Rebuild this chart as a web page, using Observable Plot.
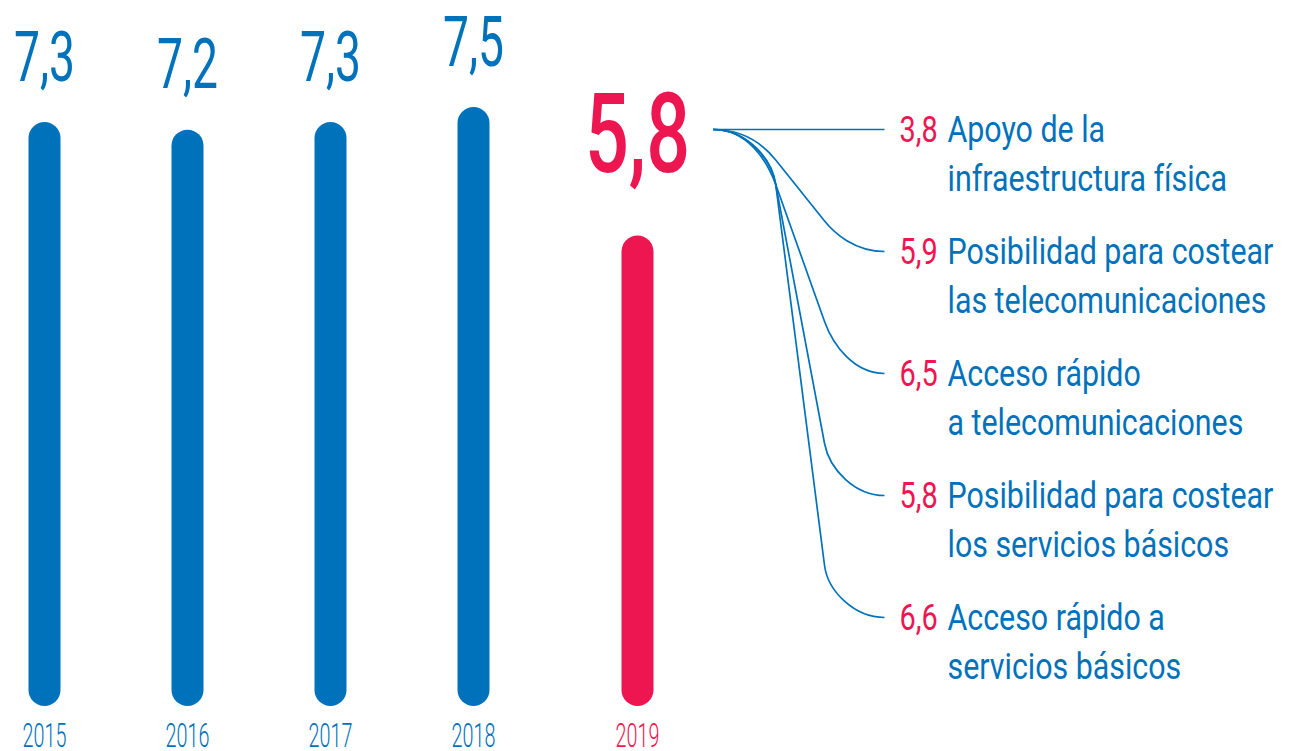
<!DOCTYPE html>
<html>
<head>
<meta charset="utf-8">
<script src="https://cdn.jsdelivr.net/npm/d3@7"></script>
<script src="https://cdn.jsdelivr.net/npm/@observablehq/plot@0.6"></script>
<style>
  html, body { margin: 0; padding: 0; background: #fff; }
  #chart { position: relative; width: 1290px; height: 751px; overflow: hidden; }
  #chart svg { position: absolute; top: 0; }
</style>
</head>
<body>
<div id="chart"></div>
<script>
// ---- data ----
const years = ["2015", "2016", "2017", "2018", "2019"];
const scores = [7.3, 7.2, 7.3, 7.5, 5.8];
const indicatorValues = [3.8, 5.9, 6.5, 5.8, 6.6];
const indicatorLabels = [
  "Apoyo de la\ninfraestructura física",
  "Posibilidad para costear\nlas telecomunicaciones",
  "Acceso rápido\na telecomunicaciones",
  "Posibilidad para costear\nlos servicios básicos",
  "Acceso rápido a\nservicios básicos"
];

// ---- styling ----
const BLUE = "#0072bc";
const PINK = "#ee1651";
const FONT = "Roboto, 'Liberation Sans', sans-serif";
const fmt = v => v.toFixed(1).replace(".", ",");

const bars = years.map((year, i) => ({year, value: scores[i], current: i === years.length - 1}));
const past = bars.filter(d => !d.current);
const now = bars.filter(d => d.current);
const indicators = indicatorLabels.map((label, i) => ({label, value: indicatorValues[i]}));

// squeeze text horizontally around its anchor (condensed type look)
function squeeze(svg, key, s) {
  svg.querySelectorAll(`g[aria-description="${key}"] text`).forEach(t => {
    const ax = parseFloat(t.getAttribute("x")) || 0;
    t.setAttribute("transform",
      (t.getAttribute("transform") || "") + ` translate(${ax},0) scale(${s},1) translate(${-ax},0)`);
  });
}

// ---- left chart: bars ----
const GAP = 21; // extra spacing before the current year
const left = Plot.plot({
  width: 700,
  height: 751,
  margin: 0,
  style: {fontFamily: FONT, background: "transparent"},
  x: {type: "point", domain: years, range: [44, 616], padding: 0, axis: null},
  y: {domain: [0, 9], range: [690, 9.6], axis: null},
  marks: [
    Plot.ruleX(past, {x: "year", y1: 0, y2: "value", stroke: BLUE, strokeWidth: 32, strokeLinecap: "round"}),
    Plot.ruleX(now, {x: "year", y1: 0, y2: "value", stroke: PINK, strokeWidth: 32, strokeLinecap: "round", dx: GAP}),
    Plot.text(past, {x: "year", y: "value", text: d => fmt(d.value), fill: BLUE, fontSize: 70,
      fontWeight: 400, lineAnchor: "bottom", dy: -58, ariaDescription: "vals"}),
    Plot.text(now, {x: "year", y: "value", text: d => fmt(d.value), fill: PINK, fontSize: 112, fontWeight: 500,
      lineAnchor: "bottom", dy: -80, dx: GAP, ariaDescription: "valnow"}),
    Plot.text(past, {x: "year", y: () => 0, text: "year", fill: BLUE, fontSize: 33, fontWeight: 300,
      lineAnchor: "top", dy: 33, ariaDescription: "years"}),
    Plot.text(now, {x: "year", y: () => 0, text: "year", fill: PINK, fontSize: 33, fontWeight: 300,
      lineAnchor: "top", dy: 33, dx: GAP, ariaDescription: "yearnow"})
  ]
});
squeeze(left, "vals", 0.66);
squeeze(left, "valnow", 0.69);
squeeze(left, "years", 0.6);
squeeze(left, "yearnow", 0.6);
left.style.left = "0px";

// ---- right panel: breakdown with elbow connectors ----
function elbowCurve(context) {
  let pts = [];
  return {
    areaStart() {}, areaEnd() {},
    lineStart() { pts = []; },
    point(x, y) { pts.push([+x, +y]); },
    lineEnd() {
      const [x0, y0] = pts[0];
      const [x1, y1] = pts[pts.length - 1];
      context.moveTo(x0, y0);
      const dy = y1 - y0, dx = x1 - x0;
      if (Math.abs(dy) < 1) { context.lineTo(x1, y1); return; }
      const r1 = Math.min(55, dy * 0.25), r2 = Math.min(52, dy * 0.25);
      const ax = x0 + dx * 0.365, ay = y0 + r1;
      const bx = x1 - dx * 0.35, by = y1 - r2;
      const len = Math.hypot(bx - ax, by - ay);
      const ux = (bx - ax) / len, uy = (by - ay) / len;
      context.bezierCurveTo(x0 + (ax - x0) * 0.55, y0, ax - ux * r1 * 0.45, ay - uy * r1 * 0.45, ax, ay);
      context.lineTo(bx, by);
      context.bezierCurveTo(bx + ux * r2 * 0.5, by + uy * r2 * 0.5, x1 - (x1 - bx) * 0.5, y1, x1, y1);
    }
  };
}

const right = Plot.plot({
  width: 590,
  height: 751,
  margin: 0,
  style: {fontFamily: FONT, background: "transparent"},
  x: {domain: [0, 1], range: [12.7, 184], axis: null},
  y: {type: "point", domain: indicatorLabels, range: [129, 617], padding: 0, axis: null},
  marks: [
    Plot.link(indicators, {x1: 0, y1: () => indicatorLabels[0], x2: 1, y2: "label",
      stroke: BLUE, strokeWidth: 1.7, curve: elbowCurve}),
    Plot.text(indicators, {x: 1, y: "label", text: d => fmt(d.value), fill: PINK, fontSize: 37.5, fontWeight: 400,
      textAnchor: "start", lineAnchor: "top", dx: 15, dy: -14, ariaDescription: "ivals"}),
    Plot.text(indicators, {x: 1, y: "label", text: "label", fill: BLUE, fontSize: 37.5, fontWeight: 400, lineHeight: 1.29,
      textAnchor: "start", lineAnchor: "top", dx: 63, dy: -21.7, ariaDescription: "ilabels"})
  ]
});
squeeze(right, "ivals", 0.77);
squeeze(right, "ilabels", 0.81);
right.style.left = "700px";

document.getElementById("chart").append(left, right);
</script>
</body>
</html>
